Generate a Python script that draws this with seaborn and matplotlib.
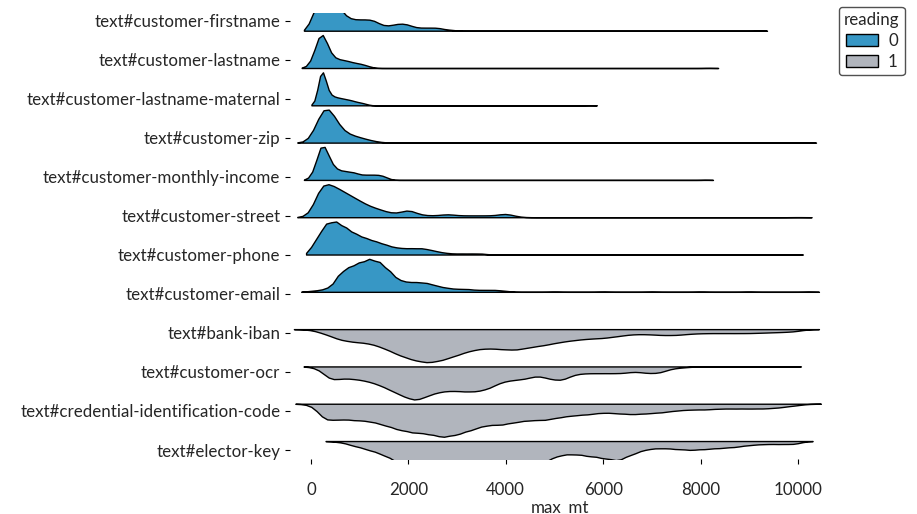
import numpy as np
import pandas as pd
import matplotlib
matplotlib.use("Agg")
import matplotlib.pyplot as plt
from matplotlib.patches import Patch
import seaborn as sns

fields = [
    "text#customer-firstname",
    "text#customer-lastname",
    "text#customer-lastname-maternal",
    "text#customer-zip",
    "text#customer-monthly-income",
    "text#customer-street",
    "text#customer-phone",
    "text#customer-email",
    "text#bank-iban",
    "text#customer-ocr",
    "text#credential-identification-code",
    "text#elector-key",
]
readings = ["0"] * 8 + ["1"] * 4

# binned max_mt observations estimated from each violin: first bin, bin step, counts per bin
bin_start = [0, 0, 150, 0, 0, 0, 100, 0, 0, 150, 0, 600]
bin_step = [100, 100, 50, 100, 100, 200, 200, 200, 300, 250, 300, 300]
# kde bandwidth (in max_mt units) read from the smoothness / overhang of each violin
bandwidth = [72, 95, 70, 140, 72, 140, 100, 100, 175, 150, 160, 150]

counts_firstname = [12, 24, 30, 33, 32, 28, 22, 15, 12, 11, 11, 11, 11, 10, 7,
                    5, 5, 6, 7, 7, 6, 4, 3, 3, 3, 3, 3, 2, 1, 1]
counts_lastname = [3, 12, 30, 18, 7, 6, 5, 5, 4, 3, 3, 2, 1]
counts_maternal = [6, 40, 32, 12, 8, 7, 6, 6, 5, 5, 5, 4, 4, 4, 3, 3, 2, 2, 2, 1, 1]
counts_zip = [2, 18, 44, 56, 44, 28, 16, 12, 10, 8, 7, 5, 3, 2, 1]
counts_income = [3, 12, 30, 26, 14, 9, 7, 7, 6, 6, 4, 4, 4, 4, 4, 3, 1]
counts_street = [3, 40, 36, 30, 24, 18, 12, 9, 5, 4, 10, 3, 2, 2, 4, 2, 2, 2, 2, 2, 5, 1]
counts_phone = [14, 30, 32, 26, 20, 16, 13, 10, 7, 6, 6, 6, 4, 2, 1, 1, 1, 1]
counts_email = [1, 2, 5, 20, 26, 30, 34, 31, 22, 12, 10, 10, 9, 6, 4, 3, 3, 2, 2, 2, 1]
counts_iban = [1, 10, 22, 26, 28, 38, 52, 62, 68, 62, 52, 42, 38, 40, 42, 36, 32,
               26, 22, 19, 18, 14, 10, 10, 12, 12, 9, 8, 8, 8, 8, 7, 6, 5]
counts_ocr = [2, 15, 12, 13, 15, 19, 25, 31, 36, 30, 26, 25, 26, 26, 23, 16, 14,
              13, 9, 13, 15, 8, 7, 7, 7, 7, 5, 7, 7, 2, 1]
counts_credential = [1, 18, 16, 17, 18, 22, 27, 30, 31, 35, 32, 27, 22, 22, 19, 17, 17,
                     14, 12, 11, 9, 10, 11, 10, 9, 7, 6, 6, 5, 5, 5, 5, 4, 2]
counts_elector = [1, 5, 9, 14, 22, 27, 30, 32, 33, 32, 30, 28, 26, 24, 21, 14, 13,
                  15, 17, 20, 13, 8, 7, 8, 9, 8, 7, 6, 4, 3, 3, 3]

# isolated large values that stretch the thin tail lines to the right
tail_firstname = [9220]
tail_lastname = [8170]
tail_maternal = [5730]
tail_zip = [10090]
tail_income = [8110]
tail_street = [10000]
tail_phone = [9900]
tail_email = [5000, 6000, 7000, 8000, 9000, 10230]
tail_iban = [10080]
tail_ocr = [9760]
tail_credential = [10150]
tail_elector = [10000]

# the binned counts are relative heights; each unit stands for this many records
records_per_count = 5

all_counts = [counts_firstname, counts_lastname, counts_maternal, counts_zip,
              counts_income, counts_street, counts_phone, counts_email,
              counts_iban, counts_ocr, counts_credential, counts_elector]
all_tails = [tail_firstname, tail_lastname, tail_maternal, tail_zip,
             tail_income, tail_street, tail_phone, tail_email,
             tail_iban, tail_ocr, tail_credential, tail_elector]

rows = []
for field, reading, start, step, counts, tail in zip(fields, readings, bin_start,
                                                     bin_step, all_counts, all_tails):
    grid = start + step * np.arange(len(counts))
    values = np.concatenate([np.repeat(grid, np.array(counts) * records_per_count), tail])
    rows.append(pd.DataFrame({"field": field, "reading": reading, "max_mt": values}))
df = pd.concat(rows, ignore_index=True)

palette = {"0": "#3797C5", "1": "#B1B5BD"}

sns.set_theme(style="ticks")
plt.rcParams["font.family"] = ["Lato", "DejaVu Sans"]

fig = plt.figure(figsize=(9.17, 5.14), dpi=100)
ax = fig.add_axes([0.3162, 0.1064, 0.5889, 0.8689])

for i, field in enumerate(fields):
    sub = df[df["field"] == field]
    factor = bandwidth[i] / sub["max_mt"].std()
    sns.violinplot(data=sub, x="max_mt", y="field", hue="reading",
                   order=fields, hue_order=["0", "1"], palette=palette,
                   saturation=1, split=True, dodge=True, width=1.77,
                   density_norm="width", inner=None, cut=2, bw_method=factor,
                   linecolor="black", linewidth=1, legend=False, ax=ax)

ax.set_xlim(-431, 10657)
ax.set_ylim(11.49, -0.483)
ax.set_xticks([0, 2000, 4000, 6000, 8000, 10000])
ax.set_yticks(np.linspace(-0.268, 11.241, len(fields)), labels=fields)
ax.set_ylabel("")
ax.set_xlabel("max_mt", fontsize=12.2, labelpad=1)
ax.tick_params(axis="both", labelsize=12.2, length=3.5, width=0.8, color="black")
ax.tick_params(axis="x", pad=13)
sns.despine(ax=ax, left=True, bottom=True)

handles = [Patch(facecolor=palette[k], edgecolor="black", linewidth=1) for k in ["0", "1"]]
leg = ax.legend(handles, ["0", "1"], title="reading", loc="upper left",
                bbox_to_anchor=(839 / 917, 1 - 7 / 514), bbox_transform=fig.transFigure,
                borderaxespad=0, frameon=True, fancybox=True, fontsize=12.2,
                title_fontsize=12.2, handlelength=1.9, labelspacing=0.3,
                borderpad=0.3, handletextpad=0.6)
leg.get_frame().set_edgecolor("0.15")
leg.get_frame().set_linewidth(1)

fig.savefig("out.png", dpi=100)
